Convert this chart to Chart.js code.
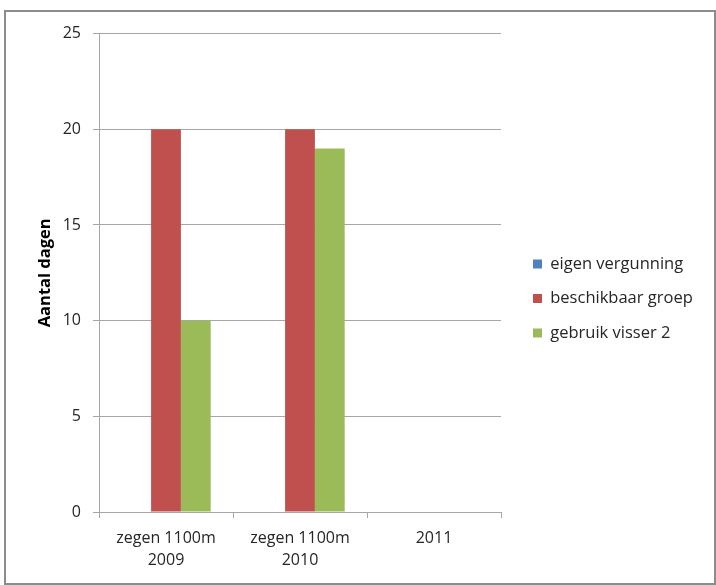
<!DOCTYPE html>
<html>
<head>
<meta charset="utf-8">
<script src="https://cdn.jsdelivr.net/npm/chart.js@4/dist/chart.umd.min.js"></script>
<style>
  body { margin: 0; background: #fff; }
  #frame { position: absolute; left: 4px; top: 10px; width: 708px; height: 571px; border: 2px solid #8c8c8c; }
  canvas { display: block; }
</style>
</head>
<body>
<div id="frame"><canvas id="chart" width="708" height="571"></canvas></div>
<script>
// categorieën en reeksen
const categories = [['zegen 1100m', '2009'], ['zegen 1100m', '2010'], '2011'];
const eigenVergunning = [0, 0, 0];
const beschikbaarGroep = [20, 20, 0];
const gebruikVisser2 = [10, 19, 0];
const yTicks = [0, 5, 10, 15, 20, 25];

const fontFam = '"Open Sans", "Liberation Sans", sans-serif';
const gridColor = '#a6a6a6';
const textColor = '#262626';

// legenda vaste breedte, iets naar rechts en omhoog
const legendFix = {
    id: 'legendFix',
    beforeLayout(chart) {
        const lg = chart.legend;
        if (lg && !lg._fixed) {
            const fit = lg.fit;
            lg.fit = function () { fit.call(this); this.width = 213; };
            lg._fixed = true;
        }
    },
    afterLayout(chart) {
        const lg = chart.legend;
        lg.left += 14;
        lg.right += 14;
        lg.top -= 4;
        lg.bottom -= 4;
    }
};

const ctx = document.getElementById('chart').getContext('2d');
new Chart(ctx, {
    type: 'bar',
    data: {
        labels: categories,
        datasets: [
            { label: 'eigen vergunning', data: eigenVergunning, backgroundColor: '#4F81BD' },
            { label: 'beschikbaar groep', data: beschikbaarGroep, backgroundColor: '#C0504D' },
            { label: 'gebruik visser 2', data: gebruikVisser2, backgroundColor: '#9BBB59' }
        ]
    },
    options: {
        responsive: false,
        animation: false,
        datasets: { bar: { categoryPercentage: 0.667, barPercentage: 1 } },
        layout: { padding: { left: 0, right: 0, top: 21, bottom: 11 } },
        scales: {
            x: {
                grid: { drawOnChartArea: false, drawTicks: true, tickLength: 6, color: gridColor, offset: true },
                border: { color: gridColor },
                ticks: { color: textColor, font: { family: fontFam, size: 16, lineHeight: 1.35 }, padding: 10, maxRotation: 0 },
                afterFit(s) { s.height = 60; }
            },
            y: {
                min: 0,
                max: 25,
                afterBuildTicks(s) { s.ticks = yTicks.map(v => ({ value: v })); },
                grid: { color: gridColor, tickLength: 6 },
                border: { color: gridColor },
                ticks: { color: textColor, font: { family: fontFam, size: 16 }, padding: 12 },
                title: {
                    display: true,
                    text: 'Aantal dagen',
                    color: '#000',
                    font: { family: fontFam, size: 16.5, weight: 'bold' },
                    padding: { top: 29, bottom: 0 }
                },
                afterFit(s) { s.width = 93; }
            }
        },
        plugins: {
            legend: {
                position: 'right',
                labels: {
                    color: textColor,
                    font: { family: fontFam, size: 16.5 },
                    boxWidth: 9,
                    boxHeight: 9,
                    padding: 18
                }
            },
            tooltip: { enabled: false }
        }
    },
    plugins: [legendFix]
});
</script>
</body>
</html>
